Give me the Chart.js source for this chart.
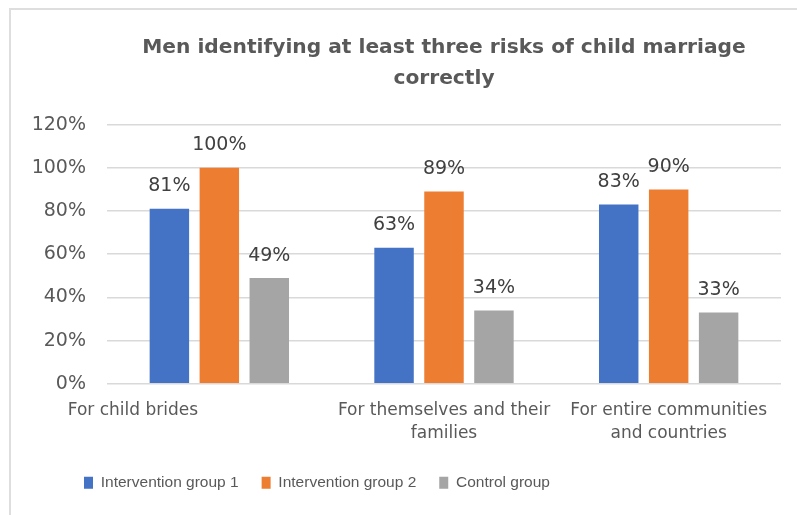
<!DOCTYPE html>
<html>
<head>
<meta charset="utf-8">
<script src="https://cdn.jsdelivr.net/npm/chart.js@4/dist/chart.umd.min.js"></script>
<style>
  html, body { margin: 0; padding: 0; background: #fff; overflow: hidden; }
  canvas { display: block; }
</style>
</head>
<body>
<canvas id="c" width="797" height="515"></canvas>
<script>
// Survey categories and results (percent of men)
const categories = [
  'For child brides',
  ['For themselves and their', 'families'],
  ['For entire communities', 'and countries']
];
const seriesNames = ['Intervention group 1', 'Intervention group 2', 'Control group'];
const intervention1 = [81, 63, 83];
const intervention2 = [100, 89, 90];
const control = [49, 34, 33];
const yTicks = [0, 20, 40, 60, 80, 100, 120];

const colors = ['#4472C4', '#ED7D31', '#A5A5A5'];
const textColor = '#595959';
const baseFont = "'DejaVu Sans', 'Liberation Sans', sans-serif";

// Light frame along the left and top edges of the chart
const frame = {
  id: 'frame',
  beforeDraw(chart) {
    const ctx = chart.ctx;
    ctx.save();
    ctx.strokeStyle = '#dedede';
    ctx.lineWidth = 2;
    ctx.beginPath();
    ctx.moveTo(10, chart.height);
    ctx.lineTo(10, 9);
    ctx.lineTo(chart.width, 9);
    ctx.stroke();
    ctx.restore();
  }
};

// Writes each bar's value above it
const valueLabels = {
  id: 'valueLabels',
  afterDatasetsDraw(chart) {
    const ctx = chart.ctx;
    ctx.save();
    ctx.font = "19px " + baseFont;
    ctx.fillStyle = '#404040';
    ctx.textAlign = 'center';
    ctx.textBaseline = 'alphabetic';
    chart.data.datasets.forEach((ds, i) => {
      chart.getDatasetMeta(i).data.forEach((bar, j) => {
        ctx.fillText(ds.data[j] + '%', bar.x, bar.y - 17.5);
      });
    });
    ctx.restore();
  }
};

// Starts the legend row further in from the left edge
const legendOffset = {
  id: 'legendOffset',
  afterLayout(chart) {
    if (chart.legend) chart.legend.left = 61;
  }
};

new Chart(document.getElementById('c'), {
  type: 'bar',
  data: {
    labels: categories,
    datasets: [intervention1, intervention2, control].map((d, i) => ({
      label: seriesNames[i],
      data: d,
      backgroundColor: colors[i],
      categoryPercentage: 0.667,
      barPercentage: 0.79
    }))
  },
  options: {
    responsive: false,
    animation: false,
    layout: { padding: { top: 10, left: 12, right: 16, bottom: 14.4 } },
    plugins: {
      title: {
        display: true,
        fullSize: false,
        text: ['Men identifying at least three risks of child marriage', 'correctly'],
        color: textColor,
        font: { family: baseFont, size: 20.2, weight: 'bold', lineHeight: 1.55 },
        padding: { top: 22, bottom: 30 }
      },
      legend: {
        position: 'bottom',
        align: 'start',
        labels: {
          boxWidth: 9,
          boxHeight: 12,
          padding: 23,
          color: textColor,
          font: { family: "'Liberation Sans', sans-serif", size: 15.5 }
        }
      },
      tooltip: { enabled: false }
    },
    scales: {
      x: {
        grid: { display: false },
        border: { display: false },
        ticks: {
          color: textColor,
          font: { family: baseFont, size: 17, lineHeight: 1.36 },
          padding: 7,
          maxRotation: 0,
          autoSkip: false,
          // the first label is set off toward the left of its group
          callback(value, index) {
            const lbl = this.getLabelForValue(value);
            return index === 0 ? lbl + ' '.repeat(32) : lbl;
          }
        }
      },
      y: {
        min: yTicks[0],
        max: yTicks[yTicks.length - 1],
        afterBuildTicks(scale) { scale.ticks = yTicks.map(v => ({ value: v })); },
        afterFit(scale) { scale.width = 95; },
        grid: { color: '#d9d9d9', lineWidth: 1.5, drawTicks: false },
        border: { display: false },
        ticks: {
          color: textColor,
          font: { family: baseFont, size: 19 },
          padding: 21,
          callback: v => v + '%'
        }
      }
    }
  },
  plugins: [frame, valueLabels, legendOffset]
});
</script>
</body>
</html>
